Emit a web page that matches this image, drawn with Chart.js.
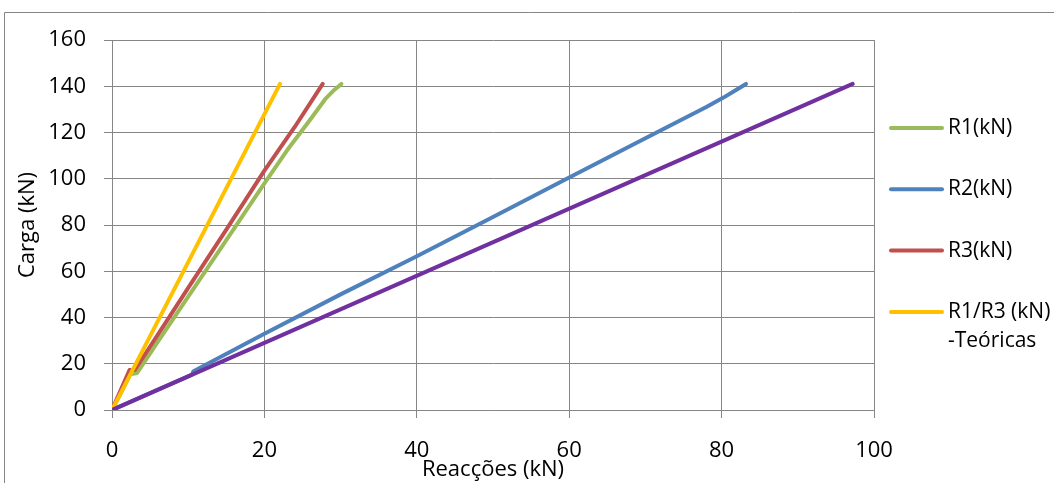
<!DOCTYPE html>
<html>
<head>
<meta charset="utf-8">
<script src="https://cdn.jsdelivr.net/npm/chart.js@4/dist/chart.umd.min.js"></script>
<style>
	html, body { margin: 0; padding: 0; background: #ffffff; }
	#wrap { position: relative; width: 1054px; height: 483px; }
</style>
</head>
<body>
<div id="wrap"><canvas id="reaccoesChart" width="1054" height="483"></canvas></div>
<script>
// Data (kN)
const r1X = [0, 1.2, 2.4, 3.3, 6, 10, 15, 20, 23, 26, 28, 29.2, 30.1];
const r1Y = [0, 7.5, 15.5, 16, 29.5, 49, 73.5, 98, 112.4, 125.5, 134.5, 138.5, 141];

const r2X = [0, 10.5, 10.7, 20, 30, 40, 50, 60, 70, 78, 80.3, 82, 83.2];
const r2Y = [0, 15.3, 16.8, 33, 50, 66.5, 83.5, 100.5, 117.5, 131, 135.2, 138.6, 141];

const r3X = [0, 2.3, 3.0, 6, 10, 15, 20, 24, 27.65];
const r3Y = [0, 17.3, 17.3, 32.5, 52.8, 78, 103.5, 122.5, 141];

const teoR13X = [0, 22.05];
const teoR13Y = [0, 141];

const teoR2X = [0, 97.2];
const teoR2Y = [0, 141];

const xTicks = [0, 20, 40, 60, 80, 100];
const yTicks = [0, 20, 40, 60, 80, 100, 120, 140, 160];

const seriesLabels = ['R1(kN)', 'R2(kN)', 'R3(kN)', ['R1/R3 (kN)', '-Teóricas'], ''];

// Colours
const greenColor = '#9BBB59',
	blueColor = '#4F81BD',
	redColor = '#C0504D',
	yellowColor = '#FFC000',
	purpleColor = '#7030A0',
	gridColor = '#868686',
	textColor = '#000000';

const fontFamily = '"Open Sans", "Liberation Sans", sans-serif';

function toPoints(xs, ys) {
	return xs.map(function(x, i) {
		return { x: x, y: ys[i] };
	});
}

function lineSet(label, xs, ys, color, order) {
	return {
		label: label,
		data: toPoints(xs, ys),
		showLine: true,
		borderColor: color,
		backgroundColor: color,
		borderWidth: 4,
		borderCapStyle: 'round',
		borderJoinStyle: 'round',
		pointRadius: 0,
		pointHoverRadius: 0,
		tension: 0,
		order: order
	};
}

// Frame round the chart + legend on the right
const frameAndLegend = {
	id: 'frameAndLegend',
	afterDraw: function(chart) {
		const ctx = chart.ctx;
		ctx.save();
		ctx.strokeStyle = gridColor;
		ctx.lineWidth = 1;
		ctx.beginPath();
		ctx.moveTo(4.5, 490);
		ctx.lineTo(4.5, 12.5);
		ctx.lineTo(1060, 12.5);
		ctx.stroke();

		const entries = [0, 1, 2, 3];
		const startY = 128, stepY = 61.3;
		ctx.font = '21px ' + fontFamily;
		ctx.textBaseline = 'middle';
		ctx.textAlign = 'left';
		entries.forEach(function(idx, n) {
			const ds = chart.data.datasets[idx];
			const y = startY + n * stepY;
			ctx.strokeStyle = ds.borderColor;
			ctx.lineWidth = 4;
			ctx.lineCap = 'round';
			ctx.beginPath();
			ctx.moveTo(891, y);
			ctx.lineTo(942, y);
			ctx.stroke();
			ctx.fillStyle = textColor;
			const lines = Array.isArray(ds.label) ? ds.label : [ds.label];
			lines.forEach(function(t, k) {
				ctx.fillText(t, 948, y + k * 29);
			});
		});
		ctx.restore();
	}
};

const canvas = document.getElementById('reaccoesChart');
new Chart(canvas, {
	type: 'scatter',
	data: {
		datasets: [
			lineSet(seriesLabels[0], r1X, r1Y, greenColor, 4),
			lineSet(seriesLabels[1], r2X, r2Y, blueColor, 3),
			lineSet(seriesLabels[2], r3X, r3Y, redColor, 2),
			lineSet(seriesLabels[3], teoR13X, teoR13Y, yellowColor, 1),
			lineSet(seriesLabels[4], teoR2X, teoR2Y, purpleColor, 0)
		]
	},
	options: {
		responsive: false,
		animation: false,
		devicePixelRatio: 1,
		layout: {
			padding: { left: 0, right: 180, top: 40, bottom: 0 }
		},
		plugins: {
			legend: { display: false },
			tooltip: { enabled: false }
		},
		scales: {
			x: {
				type: 'linear',
				min: 0,
				max: 100,
				afterBuildTicks: function(scale) {
					scale.ticks = xTicks.map(function(v) { return { value: v }; });
				},
				afterFit: function(scale) {
					scale.height = 73;
				},
				grid: {
					color: gridColor,
					lineWidth: 1,
					tickLength: 8,
					drawTicks: true
				},
				border: { color: gridColor, width: 1 },
				ticks: {
					color: textColor,
					padding: 20,
					maxRotation: 0,
					font: { family: fontFamily, size: 22 }
				},
				title: {
					display: true,
					text: 'Reacções (kN)',
					color: textColor,
					padding: { top: 0, bottom: 0 },
					font: { family: fontFamily, size: 22 }
				}
			},
			y: {
				type: 'linear',
				min: 0,
				max: 160,
				afterBuildTicks: function(scale) {
					scale.ticks = yTicks.map(function(v) { return { value: v }; });
				},
				afterFit: function(scale) {
					scale.width = 112;
				},
				grid: {
					color: gridColor,
					lineWidth: 1,
					tickLength: 8,
					drawTicks: true
				},
				border: { color: gridColor, width: 1 },
				ticks: {
					color: textColor,
					padding: 18,
					font: { family: fontFamily, size: 22 }
				},
				title: {
					display: true,
					text: 'Carga (kN)',
					color: textColor,
					padding: { top: 15, bottom: 0 },
					font: { family: fontFamily, size: 22 }
				}
			}
		}
	},
	plugins: [frameAndLegend]
});
</script>
</body>
</html>
